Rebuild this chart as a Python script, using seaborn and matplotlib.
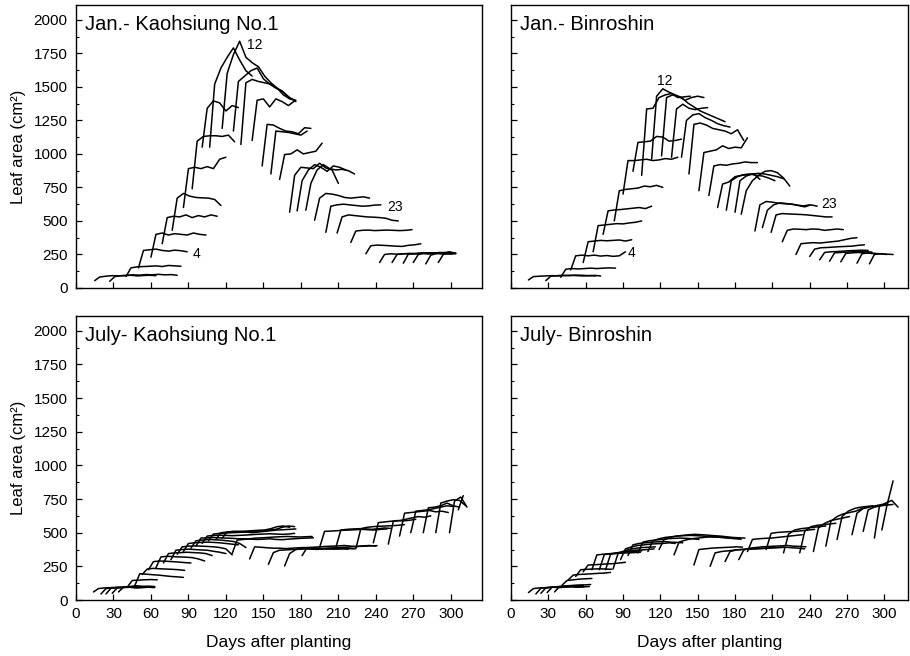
import numpy as np
import pandas as pd
import matplotlib
matplotlib.use("Agg")
import matplotlib.pyplot as plt
import seaborn as sns
from matplotlib.ticker import MultipleLocator

RISE = 4   # days between emergence reading and the first expanded reading
STEP = 5   # days between later readings of a leaf

# ---------------- Jan. - Kaohsiung No.1 ----------------
jan_k_start = [15, 27, 40, 50, 60, 69, 77, 86, 93, 101, 107, 117, 126, 132, 141, 149,
               156, 163, 171, 177, 184, 191, 200, 209, 220, 232, 243, 253, 262, 270, 280, 290]
jan_k_area = [
    [55, 82, 88, 92, 90, 92, 95, 90, 93, 95, 92],
    [50, 85, 92, 95, 98, 96, 100, 98, 102, 98, 100, 95],
    [85, 150, 158, 160, 162, 165, 160, 168, 165, 162],
    [150, 280, 285, 290, 280, 275, 282, 278, 270],
    [230, 400, 410, 395, 405, 400, 395, 410, 400, 395],
    [330, 525, 535, 530, 545, 525, 540, 530, 545, 535],
    [430, 670, 705, 685, 675, 672, 670, 660, 615],
    [600, 890, 900, 890, 905, 890, 960, 975],
    [740, 1095, 1130, 1135, 1135, 1130, 1140, 1090],
    [1050, 1340, 1395, 1380, 1320, 1360, 1345],
    [1050, 1520, 1640, 1720, 1790, 1700, 1620, 1580],
    [1190, 1600, 1740, 1840, 1720, 1680, 1650, 1580, 1530, 1490, 1440, 1410, 1400],
    [1170, 1540, 1580, 1620, 1640, 1560, 1520, 1490, 1470, 1420, 1400],
    [1070, 1530, 1555, 1540, 1530, 1520, 1490, 1460, 1420, 1390],
    [1100, 1400, 1410, 1350, 1410, 1390, 1360, 1395],
    [910, 1220, 1215, 1190, 1170, 1165, 1150, 1195, 1190],
    [850, 1170, 1165, 1160, 1150, 1140, 1170],
    [810, 995, 1000, 1030, 1000, 1010, 1020, 1080],
    [565, 840, 900, 895, 890, 930, 895, 880, 780],
    [575, 800, 880, 920, 900, 870, 910, 900, 880],
    [580, 780, 880, 920, 890, 880, 885, 875, 850],
    [505, 670, 705, 700, 690, 675, 670, 675, 680, 670],
    [415, 610, 620, 625, 620, 615, 610, 612, 618, 620],
    [410, 530, 545, 540, 535, 530, 528, 525, 520, 505, 500],
    [340, 425, 430, 432, 428, 430, 432, 430, 428, 430, 435],
    [255, 315, 320, 318, 315, 312, 310, 318, 322, 330],
    [190, 250, 255, 252, 255, 258, 255, 260, 255, 258, 255, 255, 258],
    [190, 250, 255, 255, 258, 260, 255, 262, 258, 255, 256],
    [185, 252, 255, 258, 262, 258, 265, 260, 255],
    [190, 250, 258, 262, 260, 265, 258, 255],
    [180, 245, 258, 262, 270, 258],
    [190, 250, 265, 260],
]

# ---------------- Jan. - Binroshin ----------------
jan_b_start = [14, 28, 40, 48, 58, 66, 74, 83, 90, 98, 105, 113, 121, 129, 137, 143,
               151, 159, 166, 173, 180, 185, 196, 202, 209, 218, 229, 240, 248, 256, 265, 278, 288]
jan_b_area = [
    [60, 85, 88, 90, 92, 90, 92, 95, 92, 90, 92, 90],
    [55, 88, 92, 95, 92, 96, 95, 92, 94, 90],
    [80, 140, 145, 142, 145, 148, 145, 148, 150, 148],
    [135, 240, 245, 240, 245, 238, 242, 236, 240, 270],
    [190, 345, 350, 355, 352, 355, 358, 350, 360],
    [270, 465, 470, 475, 480, 478, 485, 490, 500],
    [400, 575, 582, 585, 590, 595, 600, 592, 610],
    [500, 725, 735, 740, 745, 760, 755, 765, 750],
    [700, 950, 950, 955, 960, 950, 955, 965, 960, 975],
    [870, 1085, 1090, 1095, 1130, 1125, 1095, 1100, 1110],
    [840, 1335, 1340, 1420, 1440, 1450, 1420, 1425, 1430],
    [960, 1430, 1485, 1460, 1440, 1420, 1380, 1350, 1320, 1300, 1280, 1260, 1240],
    [985, 1420, 1440, 1425, 1400, 1420, 1430, 1420],
    [975, 1335, 1370, 1340, 1330, 1340, 1345],
    [975, 1250, 1290, 1300, 1270, 1250, 1225, 1210, 1200],
    [850, 1220, 1230, 1215, 1190, 1180, 1170, 1150, 1180, 1100],
    [725, 1010, 1020, 1030, 1060, 1040, 1050, 1045, 1120],
    [690, 910, 920, 915, 925, 930, 940, 935, 935],
    [600, 775, 790, 830, 840, 845, 850, 810],
    [580, 800, 830, 845, 850, 840, 835, 820, 800],
    [565, 800, 835, 850, 855, 850, 840, 830, 815],
    [550, 725, 800, 840, 870, 875, 860, 820, 760],
    [425, 620, 645, 640, 632, 628, 625, 618, 612, 620],
    [450, 580, 620, 635, 630, 625, 615, 605, 620, 610],
    [415, 545, 555, 552, 550, 548, 545, 540, 535, 530, 530],
    [345, 430, 440, 438, 435, 440, 438, 430, 435, 440, 435],
    [250, 330, 335, 338, 335, 340, 345, 350, 360, 370, 375],
    [235, 290, 300, 302, 305, 308, 310, 312, 318, 322],
    [210, 265, 270, 272, 275, 278, 280, 282, 280],
    [200, 262, 265, 268, 270, 272, 270, 268],
    [195, 258, 262, 265, 262, 258, 255],
    [185, 255, 262, 258, 255, 250],
    [180, 250, 255, 252, 250],
]

# ---------------- July - Kaohsiung No.1 ----------------
jul_k_start = [14, 20, 24, 29, 34, 41, 47, 53, 58, 64, 70, 76, 81, 86, 92, 96, 101, 106,
               112, 117, 125, 139, 154, 167, 181, 195, 208, 224, 238, 250, 259, 268, 278,
               288, 299, 306]
jul_k_area = [
    [60, 85, 90, 92, 95, 92, 95, 90, 92, 95, 92],
    [45, 85, 90, 92, 95, 95, 92, 95, 98],
    [45, 88, 92, 95, 98, 100, 98, 95],
    [50, 90, 95, 98, 100, 98, 102, 100],
    [60, 95, 100, 105, 102, 100, 98],
    [95, 145, 148, 150, 152, 150],
    [105, 195, 192, 188, 185, 180, 175, 172, 168],
    [190, 230, 235, 232, 230, 228, 225, 220],
    [225, 285, 290, 288, 285, 282, 278, 275],
    [240, 320, 325, 322, 320, 318, 315, 305, 290],
    [275, 345, 350, 352, 355, 352, 350, 345, 330],
    [300, 370, 375, 378, 375, 372, 370, 362, 355, 345],
    [340, 395, 400, 402, 400, 398, 395, 390, 380, 335],
    [360, 420, 425, 428, 430, 428, 425, 420, 415, 410],
    [385, 440, 445, 450, 448, 445, 440, 435, 420, 390],
    [400, 460, 462, 465, 462, 460, 458, 455, 455, 452, 450, 452, 455, 450, 448, 452, 455, 458, 460, 462],
    [420, 475, 480, 482, 480, 478, 480, 482, 485, 488, 490, 492, 490, 488, 490, 495],
    [440, 490, 495, 498, 500, 502, 505, 508, 512, 515, 520, 525, 540, 550, 545],
    [450, 500, 505, 508, 510, 512, 515, 518, 520, 530, 545, 550, 540],
    [460, 505, 510, 508, 505, 500, 505, 510, 515, 520, 522, 525, 528],
    [345, 445, 450, 455, 460, 462, 465, 468, 470, 472, 470, 468, 470, 472],
    [305, 395, 392, 388, 385, 385, 382, 385, 388, 390, 385, 382, 380, 378, 380, 382, 378],
    [265, 352, 370, 372, 375, 378, 380, 378, 376, 380, 382, 378, 380, 382, 380],
    [253, 345, 375, 380, 382, 385, 383, 385, 388, 390, 392, 395, 398, 400, 402, 404],
    [330, 390, 392, 395, 398, 400, 402, 405, 400, 398, 402, 405, 400],
    [390, 510, 512, 515, 518, 520, 522, 525, 522, 520, 525, 528],
    [390, 520, 525, 528, 530, 528, 525, 530, 535, 532],
    [380, 530, 540, 545, 548, 550, 552, 555, 560],
    [425, 575, 580, 585, 590, 588, 592, 600],
    [415, 585, 590, 600, 610, 620, 615, 625],
    [475, 645, 650, 655, 660, 665, 655, 660, 650],
    [500, 660, 665, 670, 680, 690, 700, 695],
    [500, 685, 690, 700, 720, 700, 690],
    [500, 720, 735, 745, 740, 700],
    [500, 735, 765, 690],
    [670, 775],
]

# ---------------- July - Binroshin ----------------
jul_b_start = [14, 20, 24, 29, 35, 41, 46, 52, 58, 65, 71, 76, 82, 88, 94, 102, 110, 119,
               131, 147, 160, 172, 183, 190, 205, 219, 232, 243, 253, 262, 274, 283, 292, 298]
jul_b_area = [
    [55, 85, 90, 92, 95, 92, 95, 98, 96, 98, 100],
    [45, 88, 92, 95, 96, 98, 100, 98, 100],
    [50, 90, 95, 98, 100, 102, 100, 98],
    [55, 95, 100, 102, 105, 108, 110],
    [60, 100, 105, 108, 110, 112, 115],
    [110, 145, 150, 155, 158, 160],
    [150, 185, 190, 192, 195, 198, 200, 205],
    [175, 225, 228, 230, 232, 230, 228],
    [210, 260, 262, 265, 268, 270, 275, 280],
    [225, 335, 340, 342, 345, 348, 350, 352, 355],
    [225, 338, 345, 350, 355, 360, 362, 365],
    [225, 340, 350, 358, 365, 370, 372, 375, 380],
    [230, 345, 365, 378, 385, 390, 392, 395],
    [300, 380, 395, 405, 410, 415, 418, 420, 425, 420],
    [330, 410, 420, 425, 430, 432, 435, 430, 428, 425],
    [350, 430, 440, 445, 450, 455, 458, 460, 458, 455, 450],
    [360, 440, 455, 465, 470, 475, 478, 480, 478, 475, 470, 468, 465, 462, 460, 458],
    [375, 450, 465, 475, 480, 485, 488, 485, 482, 478, 475, 470, 465, 462, 460],
    [335, 430, 445, 455, 460, 465, 470, 468, 465, 460, 455, 452],
    [260, 375, 380, 385, 388, 390, 392, 395, 393],
    [250, 350, 360, 365, 370, 375, 378, 380, 382, 385, 388, 390, 392],
    [285, 360, 372, 375, 378, 380, 382, 385, 388, 390, 392, 388, 385, 380],
    [300, 372, 385, 390, 395, 398, 400, 402, 405, 400, 398, 395],
    [360, 450, 455, 458, 460, 465, 470, 475, 480, 485],
    [375, 495, 502, 505, 508, 510, 515, 520, 525],
    [350, 490, 520, 530, 535, 540, 545, 550],
    [350, 510, 545, 555, 560, 565, 570],
    [360, 535, 570, 590, 600, 610, 620],
    [400, 585, 620, 640, 650, 660, 680, 690],
    [450, 620, 660, 680, 690, 695, 700],
    [485, 645, 680, 690, 700, 710, 712],
    [510, 670, 690, 700, 705, 710],
    [460, 695, 720, 740, 690],
    [520, 700, 885],
]

panel_titles = ["Jan.- Kaohsiung No.1", "Jan.- Binroshin",
                "July- Kaohsiung No.1", "July- Binroshin"]
# leaf-number labels: (panel, text, day, area)
leaf_labels = [(0, "12", 137, 1815), (0, "4", 93, 255), (0, "23", 249, 607),
               (1, "12", 117, 1545), (1, "4", 94, 262), (1, "23", 249, 628)]
x_ticks = list(range(0, 301, 30))
y_ticks = list(range(0, 2001, 250))


def leaf_frame(starts, areas):
    rows = []
    for i, (s, vals) in enumerate(zip(starts, areas)):
        for k, v in enumerate(vals):
            d = s if k == 0 else s + RISE + STEP * (k - 1)
            rows.append((i + 1, d, v))
    return pd.DataFrame(rows, columns=["leaf", "day", "area"])


sns.set_theme(style="white")
plt.rcParams["font.family"] = ["Liberation Sans", "DejaVu Sans"]
plt.rcParams["axes.edgecolor"] = "black"
plt.rcParams["axes.linewidth"] = 1.0

fig = plt.figure(figsize=(9.1, 6.56), dpi=100)
W, H = 910, 656
boxes = [(76, 5, 482, 288), (511, 5, 908, 288), (76, 316, 482, 600), (511, 316, 908, 600)]
xmax = [325, 319, 325, 319]
panels = [(jan_k_start, jan_k_area), (jan_b_start, jan_b_area),
          (jul_k_start, jul_k_area), (jul_b_start, jul_b_area)]
axes = []
for i, (x0, y0, x1, y1) in enumerate(boxes):
    ax = fig.add_axes([x0 / W, 1 - y1 / H, (x1 - x0) / W, (y1 - y0) / H])
    axes.append(ax)
    df = leaf_frame(*panels[i])
    sns.lineplot(data=df, x="day", y="area", units="leaf", estimator=None,
                 color="black", lw=1.1, sort=False, legend=False, ax=ax)
    ax.set_xlim(0, xmax[i])
    ax.set_ylim(0, 2110)
    ax.set_xticks(x_ticks)
    ax.set_yticks(y_ticks)
    ax.yaxis.set_minor_locator(MultipleLocator(125))
    ax.tick_params(which="both", direction="in", colors="black", labelsize=11,
                   bottom=True, left=True, top=False, right=False)
    ax.tick_params(which="major", length=4, width=0.9)
    ax.tick_params(which="minor", length=2, width=0.8)
    for sp in ax.spines.values():
        sp.set_visible(True)
        sp.set_color("black")
        sp.set_linewidth(1.0)
    ax.set_xlabel("")
    ax.set_ylabel("")
    ax.text(0.022, 0.93, panel_titles[i], transform=ax.transAxes,
            ha="left", va="center", fontsize=14.5, color="black")
    if i < 2:
        ax.tick_params(labelbottom=False)
    else:
        ax.set_xlabel("Days after planting", fontsize=12.5, color="black")
        ax.xaxis.set_label_coords(0.5, -0.125)
    if i % 2 == 1:
        ax.tick_params(labelleft=False)
    else:
        ax.set_ylabel("Leaf area (cm²)", fontsize=12, color="black")
        ax.yaxis.set_label_coords(-0.122, 0.5)
    ax.tick_params(axis="x", pad=5)
    ax.tick_params(axis="y", pad=6)

for p, txt, d, a in leaf_labels:
    axes[p].text(d, a, txt, ha="left", va="center", fontsize=10, color="black")

fig.savefig("out.png", dpi=100)
